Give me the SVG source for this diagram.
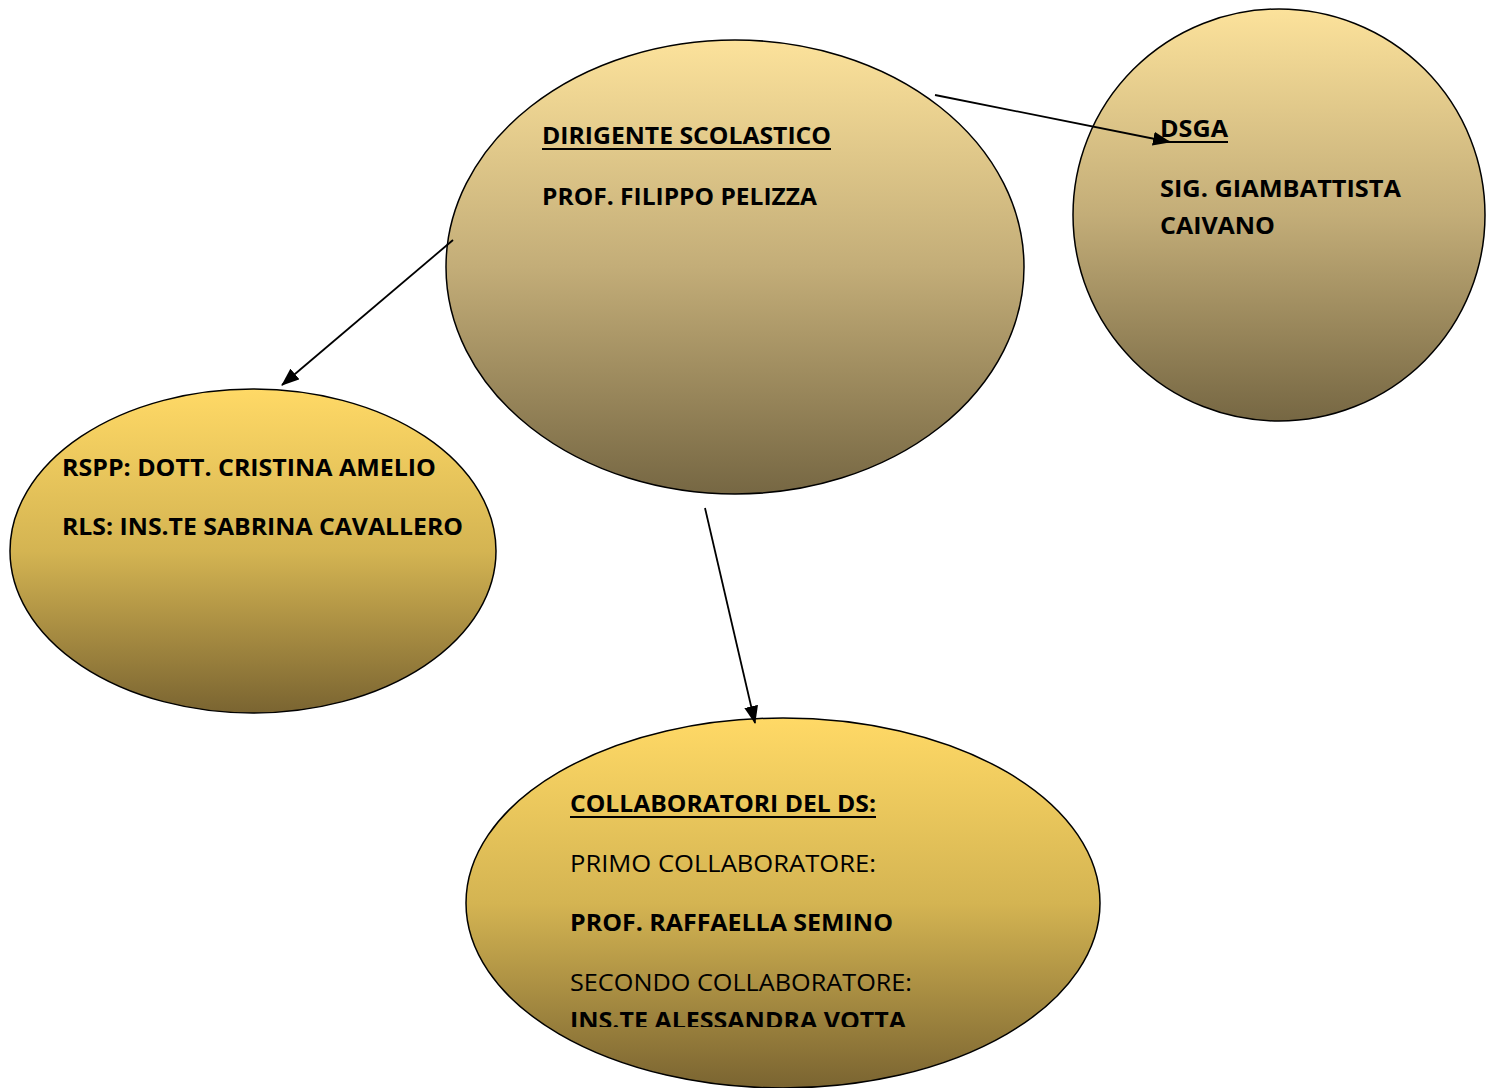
<svg xmlns="http://www.w3.org/2000/svg" width="1494" height="1088" viewBox="0 0 1494 1088">
<defs>
<linearGradient id="gLight" x1="0" y1="0" x2="0" y2="1">
<stop offset="0" stop-color="#fce29b"/>
<stop offset="0.5" stop-color="#c3ad78"/>
<stop offset="1" stop-color="#766743"/>
</linearGradient>
<linearGradient id="gGold" x1="0" y1="0" x2="0" y2="1">
<stop offset="0" stop-color="#ffd966"/>
<stop offset="0.5" stop-color="#d4b452"/>
<stop offset="1" stop-color="#7a6431"/>
</linearGradient>
<marker id="arr" markerUnits="userSpaceOnUse" markerWidth="18" markerHeight="14" refX="17" refY="7" orient="auto">
<path d="M0,0 L18,7 L0,14 Z" fill="#000"/>
</marker>
<clipPath id="clipBottom"><rect x="0" y="0" width="1494" height="1027"/></clipPath>
<style>
.node{stroke:#000;stroke-width:1.5}
.t{font-family:"Open Sans","Noto Sans","Liberation Sans",sans-serif;font-size:23px;fill:#000}
.b{font-weight:bold}
.u{stroke:#000;stroke-width:2}
.c{stroke:#000;stroke-width:1.8;fill:none;marker-end:url(#arr)}
</style>
</defs>
<rect width="1494" height="1088" fill="#fff"/>
<g id="node-dirigente">
<ellipse class="node" cx="735" cy="267" rx="289" ry="227" fill="url(#gLight)"/>
<text class="t b" x="542" y="144" textLength="289" lengthAdjust="spacingAndGlyphs">DIRIGENTE SCOLASTICO</text>
<line class="u" x1="542" y1="149" x2="831" y2="149"/>
<text class="t b" x="542" y="205" textLength="275" lengthAdjust="spacingAndGlyphs">PROF. FILIPPO PELIZZA</text>
</g>
<g id="node-dsga">
<ellipse class="node" cx="1279" cy="215" rx="206" ry="206" fill="url(#gLight)"/>
<text class="t b" x="1160" y="137" textLength="68" lengthAdjust="spacingAndGlyphs">DSGA</text>
<line class="u" x1="1160" y1="142" x2="1228" y2="142"/>
<text class="t b" x="1160" y="197" textLength="241" lengthAdjust="spacingAndGlyphs">SIG. GIAMBATTISTA</text>
<text class="t b" x="1160" y="234" textLength="115" lengthAdjust="spacingAndGlyphs">CAIVANO</text>
</g>
<g id="node-rspp">
<ellipse class="node" cx="253" cy="551" rx="243" ry="162" fill="url(#gGold)"/>
<text class="t b" x="62" y="476" textLength="374" lengthAdjust="spacingAndGlyphs">RSPP: DOTT. CRISTINA AMELIO</text>
<text class="t b" x="62" y="535" textLength="401" lengthAdjust="spacingAndGlyphs">RLS: INS.TE SABRINA CAVALLERO</text>
</g>
<g id="node-collaboratori">
<ellipse class="node" cx="783" cy="903" rx="317" ry="185" fill="url(#gGold)"/>
<text class="t b" x="570" y="812" textLength="306" lengthAdjust="spacingAndGlyphs">COLLABORATORI DEL DS:</text>
<line class="u" x1="570" y1="817" x2="876" y2="817"/>
<text class="t" x="570" y="872" textLength="306" lengthAdjust="spacingAndGlyphs">PRIMO COLLABORATORE:</text>
<text class="t b" x="570" y="931" textLength="323" lengthAdjust="spacingAndGlyphs">PROF. RAFFAELLA SEMINO</text>
<text class="t" x="570" y="991" textLength="342" lengthAdjust="spacingAndGlyphs">SECONDO COLLABORATORE:</text>
<text class="t b" x="570" y="1029" textLength="336" lengthAdjust="spacingAndGlyphs" clip-path="url(#clipBottom)">INS.TE ALESSANDRA VOTTA</text>
</g>
<g id="connectors">
<line class="c" x1="935" y1="95" x2="1170" y2="142"/>
<line class="c" x1="453" y1="240" x2="282" y2="385"/>
<line class="c" x1="705" y1="508" x2="755" y2="723"/>
</g>
</svg>
